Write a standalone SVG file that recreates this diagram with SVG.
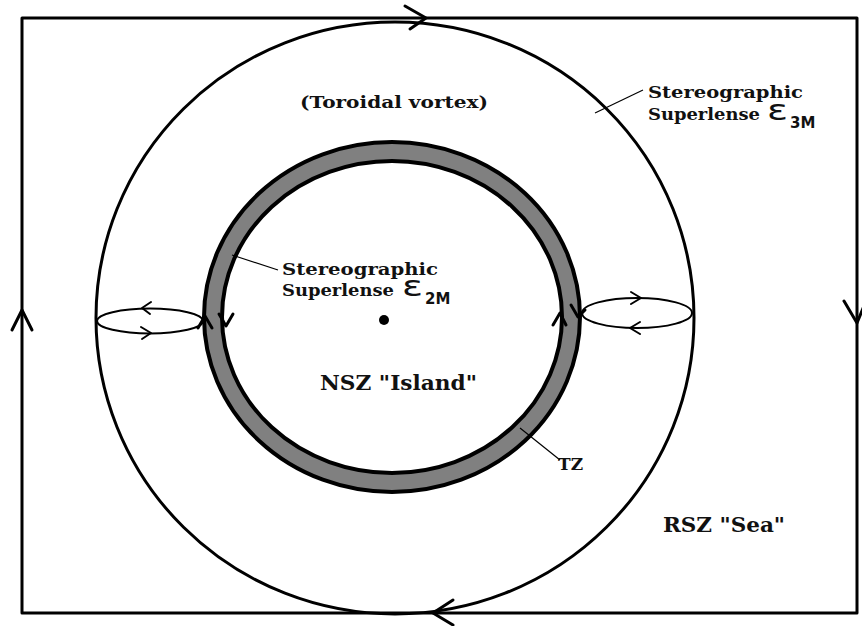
<svg xmlns="http://www.w3.org/2000/svg" width="862" height="626" viewBox="0 0 862 626">
<style>
.ln{fill:none;stroke:#000;stroke-width:3;stroke-linecap:round;stroke-linejoin:round}
.th{fill:none;stroke:#000;stroke-width:2;stroke-linecap:round;stroke-linejoin:round}
.ld{fill:none;stroke:#000;stroke-width:1.2}
.t{font-family:"DejaVu Serif","Liberation Serif",serif;font-weight:bold;fill:#111}
.e{font-family:"DejaVu Sans","Liberation Sans",sans-serif;fill:#111}
</style>
<rect width="862" height="626" fill="#fff"/>
<g id="frame">
<rect x="22" y="18" width="835" height="595" class="ln"/>
</g>
<g id="outer-lens">
<ellipse cx="395" cy="318" rx="299" ry="296" class="ln"/>
</g>
<g id="ring">
<ellipse cx="392" cy="317" rx="188" ry="175" fill="#808080" stroke="#000" stroke-width="4"/>
<ellipse cx="392" cy="317" rx="170" ry="156" fill="#fff" stroke="#000" stroke-width="4"/>
</g>
<g id="center-dot"><circle cx="384" cy="320" r="5" fill="#000"/></g>
<g id="left-loop">
<ellipse cx="150" cy="321" rx="53" ry="12.5" class="th"/>
</g>
<g id="right-loop">
<ellipse cx="637" cy="313" rx="55" ry="15" class="th"/>
</g>
<g id="connectors">
<path class="ln" d="M405 6 L426 18 L410 29"/>
<path class="ln" d="M453 600 L433 613 L453 625"/>
<path class="ln" d="M12 330 L22 310 L32 330"/>
<path class="ln" d="M844 301 L857 323 L866 301"/>
<path class="th" d="M151 302 L142 308 L150 314"/>
<path class="th" d="M141 327 L151 333 L142 339"/>
<path class="th" d="M631 292 L641 298 L631 304"/>
<path class="th" d="M640 322 L630 328 L640 334"/>
<path class="ln" d="M198 328 L205 316 L212 328"/>
<path class="ln" d="M219 314 L226 326 L233 314"/>
<path class="ln" d="M553 325 L560 313 L566 325"/>
<path class="ln" d="M571 305 L578 317 L585 310"/>
<path class="ld" d="M595 113 L643 90"/>
<path class="ld" d="M232 255 L278 270"/>
<path class="ld" d="M520 428 L560 460"/>
</g>
<g id="labels">
<text class="t" x="300" y="108" font-size="17" textLength="188" lengthAdjust="spacingAndGlyphs">(Toroidal vortex)</text>
<text class="t" x="648" y="98" font-size="17" textLength="155" lengthAdjust="spacingAndGlyphs">Stereographic</text>
<text class="t" x="648" y="120" font-size="17" textLength="112" lengthAdjust="spacingAndGlyphs">Superlense</text>
<text class="e" x="767" y="120" font-size="28" textLength="21" lengthAdjust="spacingAndGlyphs">ε</text>
<text class="e" x="790" y="128" font-size="15" font-weight="bold">3M</text>
<text class="t" x="282" y="275" font-size="17" textLength="156" lengthAdjust="spacingAndGlyphs">Stereographic</text>
<text class="t" x="282" y="296" font-size="17" textLength="112" lengthAdjust="spacingAndGlyphs">Superlense</text>
<text class="e" x="402" y="296" font-size="28" textLength="21" lengthAdjust="spacingAndGlyphs">ε</text>
<text class="e" x="425" y="304" font-size="15" font-weight="bold">2M</text>
<text class="t" x="320" y="390" font-size="20" textLength="157" lengthAdjust="spacingAndGlyphs">NSZ "Island"</text>
<text class="t" x="558" y="470" font-size="17">TZ</text>
<text class="t" x="663" y="532" font-size="20" textLength="122" lengthAdjust="spacingAndGlyphs">RSZ "Sea"</text>
</g>
</svg>
